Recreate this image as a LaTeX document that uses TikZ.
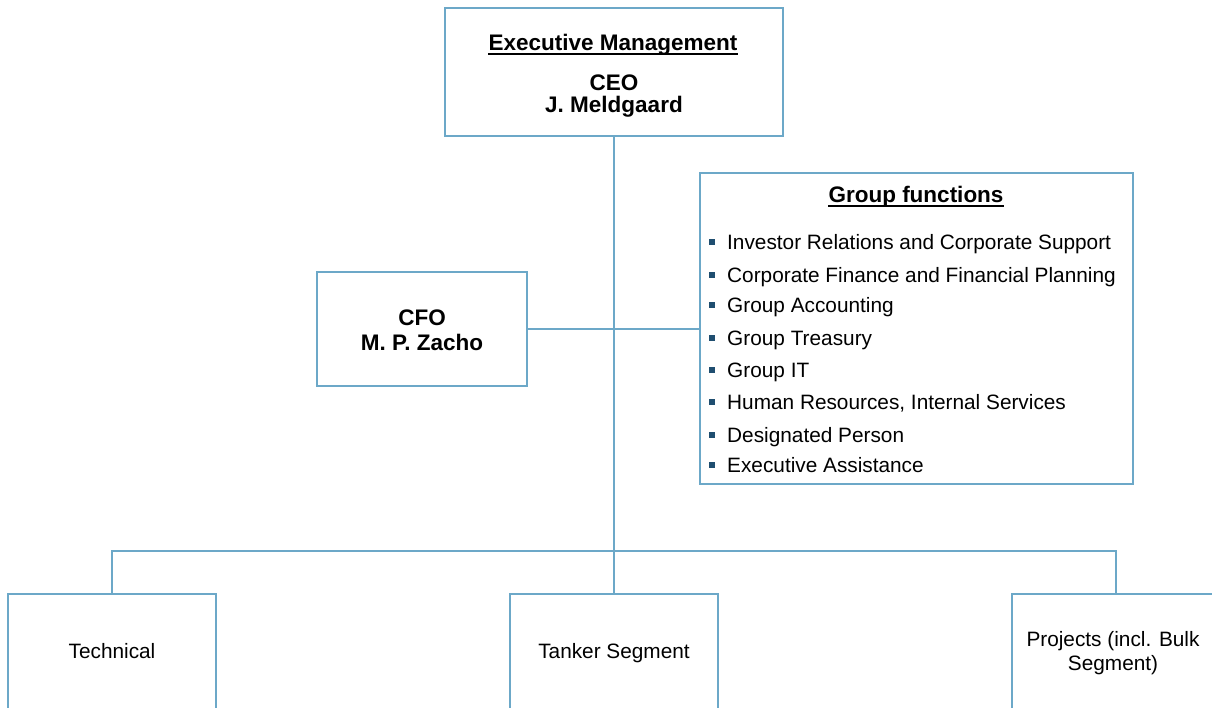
\documentclass[tikz,border=0pt]{standalone}
\usepackage{fontspec}
\setmainfont{Liberation Sans}
\definecolor{bordblue}{HTML}{6CA8C8}
\definecolor{bulblue}{HTML}{1F4E70}
\begin{document}
\begin{tikzpicture}[x=1pt,y=-1pt,
  box/.style={draw=bordblue,line width=2pt,fill=white,inner sep=0pt,rectangle},
  conn/.style={draw=bordblue,line width=2pt},
  txt/.style={inner sep=0pt,anchor=base,font=\fontsize{20.8}{24}\selectfont},
  btxt/.style={inner sep=0pt,anchor=base,font=\fontsize{22.5}{26}\selectfont\bfseries},
  itm/.style={inner sep=0pt,anchor=base west,font=\fontsize{20.8}{24}\selectfont},
  uline/.style={draw=black,line width=1.6pt},
  bul/.style={fill=bulblue,inner sep=0pt,minimum size=6pt,rectangle}]
\clip (0,0) rectangle (1212,707);
\fill[white] (0,0) rectangle (1212,707);
% boxes
\node[box,minimum width=338pt,minimum height=128pt] (exec) at (614,72) {};
\node[box,minimum width=433pt,minimum height=311pt] (gf) at (916.5,328.5) {};
\node[box,minimum width=210pt,minimum height=114pt] (cfo) at (422,328.5) {};
\node[box,minimum width=208pt,minimum height=126pt] (tech) at (112,657) {};
\node[box,minimum width=208pt,minimum height=126pt] (tank) at (614,657) {};
\node[box,minimum width=208pt,minimum height=126pt] (proj) at (1116,657) {};
% connectors
\coordinate (bus) at (614,551);
\draw[conn] (exec.south) -- (tank.north);
\draw[conn] (cfo.east) -- (gf.west);
\draw[conn] (tech.north) |- (bus) -| (proj.north);
% texts
\node[btxt] (t1) at (613,50.7) {Executive Management};
\draw[uline] ([yshift=-3pt]t1.base west) -- ([yshift=-3pt]t1.base east);
\node[btxt] (t2) at (614,90.7) {CEO};
\node[btxt] (t3) at (614,112.7) {J. Meldgaard};
\node[btxt] (t4) at (422,325) {CFO};
\node[btxt] (t5) at (422,350.7) {M. P. Zacho};
\node[btxt] (t6) at (916,202.7) {Group functions};
\draw[uline] ([yshift=-3pt]t6.base west) -- ([yshift=-3pt]t6.base east);
\node[bul] (b1) at (712,242) {};
\node[itm] (i1) at (727,249.3) {Investor Relations and Corporate Support};
\node[bul] (b2) at (712,275.3) {};
\node[itm] (i2) at (727,282.7) {Corporate Finance and Financial Planning};
\node[bul] (b3) at (712,305.3) {};
\node[itm] (i3) at (727,312.7) {Group Accounting};
\node[bul] (b4) at (712,337.6) {};
\node[itm] (i4) at (727,345) {Group Treasury};
\node[bul] (b5) at (712,370) {};
\node[itm] (i5) at (727,377.3) {Group IT};
\node[bul] (b6) at (712,402) {};
\node[itm] (i6) at (727,409.3) {Human Resources, Internal Services};
\node[bul] (b7) at (712,435.3) {};
\node[itm] (i7) at (727,442.7) {Designated Person};
\node[bul] (b8) at (712,465.3) {};
\node[itm] (i8) at (727,472.7) {Executive Assistance};
\node[txt] (l1) at (112,658.3) {Technical};
\node[txt] (l2) at (614,658.3) {Tanker Segment};
\node[txt] (l3) at (1113,646.7) {Projects (incl. Bulk};
\node[txt] (l4) at (1113,670.7) {Segment)};
\end{tikzpicture}
\end{document}
